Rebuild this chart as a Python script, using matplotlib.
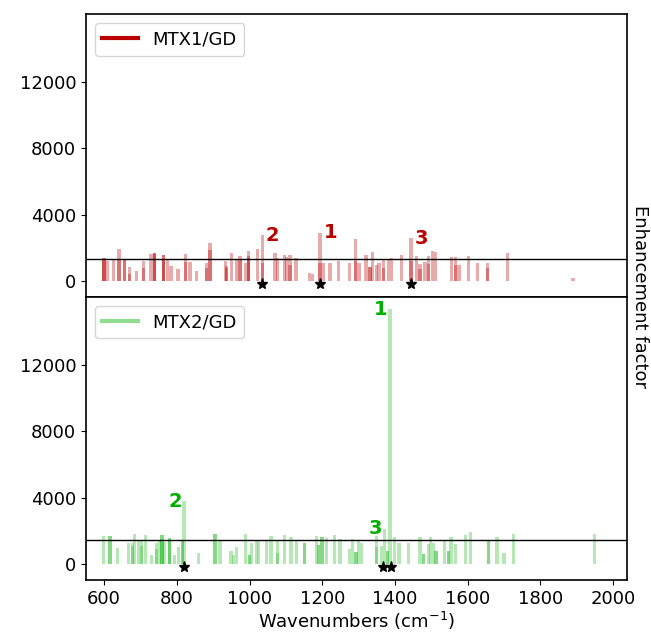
import matplotlib
matplotlib.use("Agg")
import matplotlib.pyplot as plt
from matplotlib.lines import Line2D

# ---- data: MTX1/GD (top panel) ----
top_wn = [600, 600, 600, 609, 626, 641, 641, 656, 656, 670, 670, 690, 708, 708,
          729, 738, 738, 738, 763, 763, 763, 775, 784, 803, 823, 823, 836, 855,
          882, 882, 891, 891, 933, 937, 937, 951, 965, 974, 974, 988, 997, 997,
          997, 1022, 1035, 1035, 1070, 1077, 1096, 1102, 1111, 1111, 1128, 1164,
          1173, 1194, 1194, 1203, 1221, 1244, 1274, 1292, 1292, 1301, 1320, 1331,
          1331, 1338, 1350, 1356, 1368, 1368, 1382, 1391, 1417, 1444, 1444, 1460,
          1469, 1469, 1483, 1492, 1492, 1503, 1512, 1556, 1567, 1567, 1576, 1602,
          1627, 1654, 1654, 1709, 1890]
top_ef = [1400, 1400, 1350, 1190, 1280, 1910, 1300, 1310, 1250, 855, 400, 600, 1190, 790,
          1610, 1690, 1690, 1600, 1590, 1590, 1295, 1300, 915, 700, 1650, 1135, 1130, 600,
          1070, 800, 2310, 1890, 1190, 915, 800, 1690, 1250, 1500, 1300, 1110, 1790, 1500,
          1400, 1900, 2750, 1055, 1690, 1360, 1550, 1450, 1570, 990, 1360, 500,
          440, 2900, 1110, 1110, 1110, 1190, 1055, 2550, 1190, 1110, 1570, 855,
          855, 1730, 990, 1110, 1300, 770, 1310, 1360, 1570, 2590, 1190, 1500,
          1000, 700, 1130, 1500, 1000, 1790, 1730, 1450, 1450, 990, 990, 1480,
          1110, 1055, 770, 1690, 150]
top_mean = 1313
top_marked_wn = [1035, 1194, 1444]
top_marked_ef = [2750, 2900, 2590]
top_marked_lbl = ["2", "1", "3"]

# ---- data: MTX2/GD (bottom panel) ----
bot_wn = [598, 616, 616, 637, 667, 678, 678, 683, 695, 702, 702, 713, 731, 745, 745,
          752, 759, 759, 759, 765, 779, 779, 779, 793, 804, 815, 815, 820, 859, 905,
          905, 919, 949, 956, 965, 988, 1000, 1000, 1006, 1020, 1024, 1047, 1059,
          1077, 1077, 1096, 1114, 1130, 1151, 1151, 1185, 1190, 1190, 1199, 1199,
          1212, 1233, 1249, 1274, 1283, 1293, 1293, 1299, 1308, 1350, 1350, 1362,
          1371, 1380, 1380, 1386, 1398, 1411, 1437, 1469, 1478, 1478, 1492, 1498,
          1506, 1513, 1513, 1536, 1547, 1547, 1554, 1567, 1594, 1608, 1657, 1657,
          1681, 1700, 1726, 1948]
bot_ef = [1655, 1655, 1655, 950, 1250, 1250, 1050, 1800, 1350, 1350, 1100, 1720, 550, 1250, 909,
          1350, 1720, 1720, 1500, 1300, 1535, 1535, 1400, 525, 1000, 1390, 1390, 3775, 650, 1800,
          1800, 1350, 790, 550, 1000, 1800, 550, 550, 1250, 1350, 1450, 1450, 1655,
          1350, 650, 1720, 1600, 1450, 1250, 1250, 1670, 1150, 1150, 1600, 1600,
          1550, 1720, 1500, 900, 1500, 700, 700, 1400, 1250, 1670, 1000, 1100,
          2120, 800, 800, 15350, 1640, 1250, 1250, 1600, 600, 600, 1200, 1600,
          1250, 750, 750, 1350, 800, 800, 1600, 1200, 1760, 1900, 1350, 1350,
          1600, 650, 1800, 1820]
bot_mean = 1455
bot_marked_wn = [820, 1386, 1371]
bot_marked_ef = [3775, 15350, 2120]
bot_marked_lbl = ["2", "1", "3"]
bot_star_wn = [820, 1368, 1389]

RED = "#bb0000"
GREEN = "#00b000"
GREEN_BAR = "#22bb22"

fig = plt.figure(figsize=(6.51, 6.40), dpi=100)
gs = fig.add_gridspec(2, 1, left=0.132, right=0.963, top=0.978, bottom=0.094, hspace=0)
ax1 = fig.add_subplot(gs[0])
ax2 = fig.add_subplot(gs[1], sharex=ax1)

FS = 13

def panel(ax, wn, ef, color, mean, mwn, mef, mlbl, star_wn, lblcolor, ha, dx, label, leg_alpha):
    ax.bar(wn, ef, width=9, color=color, alpha=0.33, linewidth=0)
    ax.axhline(mean, color="black", lw=1.0)
    ax.plot(star_wn, [-200] * len(star_wn), ls="none", marker="*", color="black",
            markersize=8, clip_on=False)
    for x, y, t in zip(mwn, mef, mlbl):
        ax.text(x + dx, y, t, color=lblcolor, fontsize=14, fontweight="bold",
                ha=ha, va="center")
    ax.set_ylim(-965, 16100)
    ax.set_yticks([0, 4000, 8000, 12000])
    ax.tick_params(labelsize=FS)
    h = Line2D([], [], color=color, lw=3, alpha=leg_alpha)
    ax.legend([h], [label], loc="upper left", fontsize=FS, handlelength=2.0)
    for s in ax.spines.values():
        s.set_linewidth(1.2)

panel(ax1, top_wn, top_ef, RED, top_mean, top_marked_wn, top_marked_ef, top_marked_lbl,
      top_marked_wn, RED, "left", 10, "MTX1/GD", 1.0)
panel(ax2, bot_wn, bot_ef, GREEN_BAR, bot_mean, bot_marked_wn, bot_marked_ef, bot_marked_lbl,
      bot_star_wn, GREEN, "right", -6, "MTX2/GD", 0.5)

ax1.set_xlim(550, 2038)
ax1.tick_params(axis="x", labelbottom=False, bottom=False)
ax2.set_xticks([600, 800, 1000, 1200, 1400, 1600, 1800, 2000])
ax2.set_xlabel("Wavenumbers (cm$^{-1}$)", fontsize=FS, labelpad=2)
fig.text(0.983, 0.536, "Enhancement factor", rotation=270, ha="center", va="center",
         fontsize=FS)

fig.savefig("out.png", dpi=100)
